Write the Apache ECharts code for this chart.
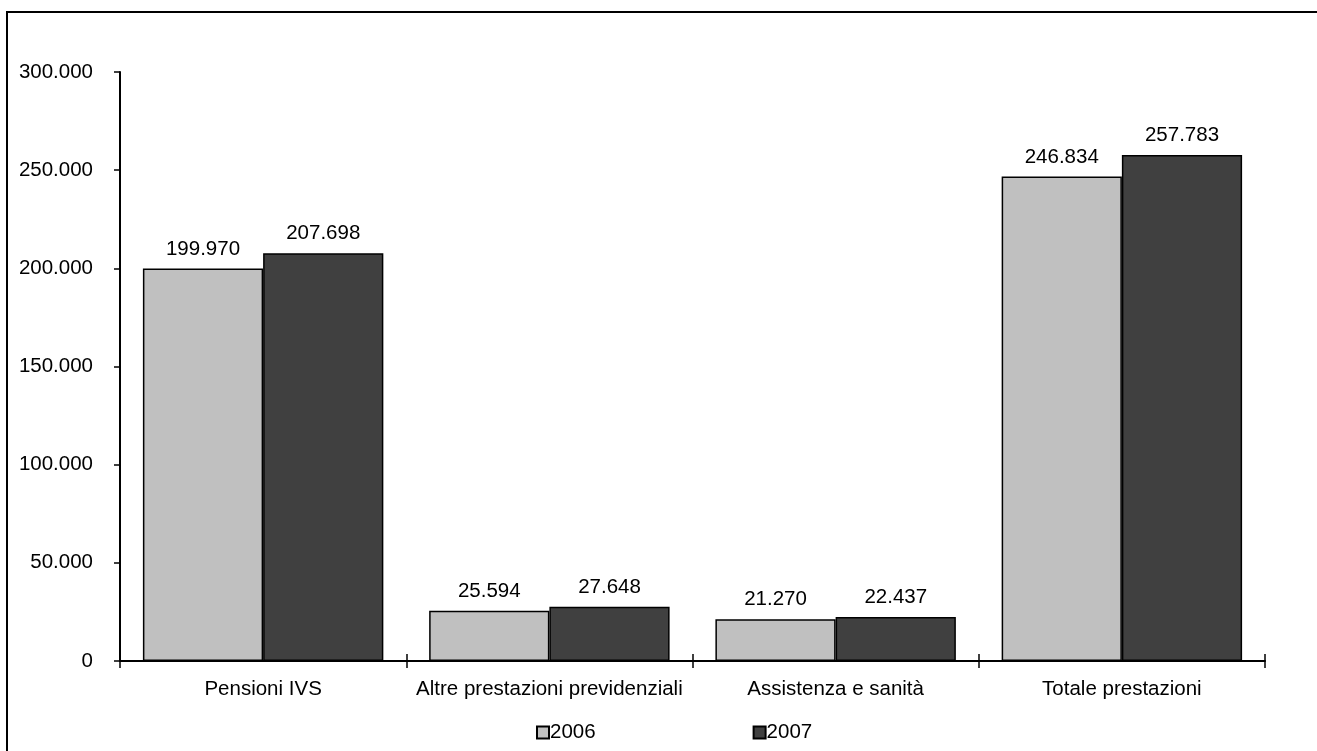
<!DOCTYPE html>
<html><head><meta charset="utf-8">
<script src="https://cdn.jsdelivr.net/npm/echarts@6/dist/echarts.min.js"></script>
<style>html,body{margin:0;padding:0;background:#fff}#c{width:1317px;height:751px}</style>
</head><body><div id="c"></div>
<script>
var categories = ['Pensioni IVS', 'Altre prestazioni previdenziali', 'Assistenza e sanità', 'Totale prestazioni'];
var values2006 = [199970, 25594, 21270, 246834];
var values2007 = [207698, 27648, 22437, 257783];
var seriesNames = ['2006', '2007'];

function fmt(v) {
  return Math.round(v).toString().replace(/\B(?=(\d{3})+(?!\d))/g, '.');
}
var chart = echarts.init(document.getElementById('c'));
var font = 'Liberation Sans, Arial, sans-serif';
var fs = 20.5;
var lbl = {show: true, position: 'top', distance: 9, color: '#000', fontSize: fs, fontFamily: font,
  formatter: function (p) { return fmt(p.value); }};
chart.setOption({
  animation: false,
  textStyle: {fontFamily: font},
  graphic: [{type: 'rect', shape: {x: 7, y: 12, width: 1400, height: 800},
    style: {fill: 'none', stroke: '#000', lineWidth: 2}, silent: true}],
  grid: {left: 120, right: 52, top: 72, bottom: 90},
  legend: {bottom: 3, left: 531, itemGap: 157, itemWidth: 12, itemHeight: 12,
    icon: 'rect', textStyle: {fontSize: fs, color: '#000', fontFamily: font, padding: [0, 0, 0, -4]},
    data: seriesNames},
  xAxis: [{type: 'category', data: categories,
    axisLine: {lineStyle: {color: '#000', width: 2}},
    axisTick: {show: true, length: 7, lineStyle: {color: '#000', width: 1.5}},
    axisLabel: {color: '#000', fontSize: fs, margin: 18, fontFamily: font, interval: 0}},
   {type: 'category', data: categories, position: 'bottom',
    axisLine: {show: false},
    axisTick: {show: true, inside: true, length: 7, lineStyle: {color: '#000', width: 1.5}},
    axisLabel: {show: false}}],
  yAxis: {type: 'value', min: 0, max: 300000, interval: 50000,
    splitLine: {show: false},
    axisLine: {show: true, lineStyle: {color: '#000', width: 2}},
    axisTick: {show: true, length: 6, lineStyle: {color: '#000', width: 1.5}},
    axisLabel: {color: '#000', fontSize: fs, margin: 27, fontFamily: font, formatter: fmt}},
  series: [
    {name: seriesNames[0], type: 'bar', data: values2006, barWidth: '42%', barGap: '0%',
     itemStyle: {color: '#c0c0c0', borderColor: '#000', borderWidth: 1.5}, label: lbl},
    {name: seriesNames[1], type: 'bar', data: values2007, barWidth: '42%', barGap: '0%',
     itemStyle: {color: '#404040', borderColor: '#000', borderWidth: 1.5}, label: lbl}
  ]
});
</script></body></html>
